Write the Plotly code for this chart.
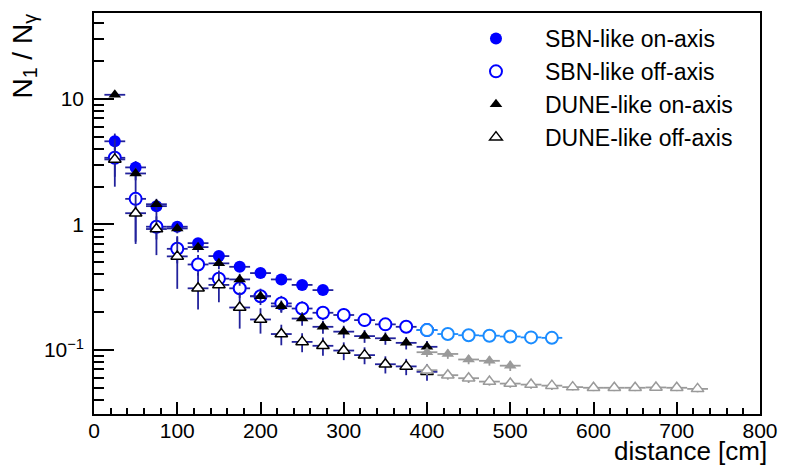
import plotly.graph_objects as go

# ---------------- data ----------------
x_sbn_on = [25, 50, 75, 100, 125, 150, 175, 200, 225, 250, 275]
y_sbn_on = [4.6, 2.85, 1.4, 0.96, 0.71, 0.56, 0.46, 0.41, 0.365, 0.33, 0.30]
e_sbn_on = [0.7, 0.35, 0.12, 0.06, 0.05, 0.04, 0.03, 0.025, 0.022, 0.02, 0.018]

x_sbn_off = [25, 50, 75, 100, 125, 150, 175, 200, 225, 250, 275, 300, 325, 350, 375, 400]
y_sbn_off = [3.4, 1.6, 0.96, 0.64, 0.48, 0.37, 0.31, 0.268, 0.235, 0.214, 0.198, 0.19, 0.173, 0.16, 0.153, 0.144]
e_sbn_off = [1.4, 0.9, 0.2, 0.15, 0.09, 0.06, 0.05, 0.04, 0.035, 0.03, 0.025, 0.025, 0.02, 0.018, 0.016, 0.014]

x_sbn_off_ext = [400, 425, 450, 475, 500, 525, 550]
y_sbn_off_ext = [0.144, 0.134, 0.131, 0.130, 0.128, 0.126, 0.125]
e_sbn_off_ext = [0.008, 0.006, 0.005, 0.005, 0.004, 0.004, 0.004]

x_dune_on = [25, 50, 75, 100, 125, 150, 175, 200, 225, 250, 275, 300, 325, 350, 375, 400]
y_dune_on = [10.8, 2.55, 1.45, 0.93, 0.66, 0.49, 0.365, 0.268, 0.223, 0.178, 0.153, 0.14, 0.129, 0.124, 0.114, 0.106]
e_dune_on = [0.3, 0.3, 0.15, 0.08, 0.06, 0.05, 0.04, 0.03, 0.025, 0.022, 0.018, 0.016, 0.015, 0.014, 0.013, 0.012]

x_dune_on_ext = [400, 425, 450, 475, 500]
y_dune_on_ext = [0.096, 0.093, 0.084, 0.082, 0.075]
e_dune_on_ext = [0.008, 0.008, 0.007, 0.007, 0.007]

x_dune_off = [25, 50, 75, 100, 125, 150, 175, 200, 225, 250, 275, 300, 325, 350, 375, 400]
y_dune_off = [3.3, 1.23, 0.92, 0.557, 0.31, 0.33, 0.218, 0.175, 0.134, 0.116, 0.108, 0.099, 0.091, 0.077, 0.074, 0.067]
e_dune_off = [0.9, 0.5, 0.35, 0.25, 0.1, 0.09, 0.07, 0.04, 0.025, 0.02, 0.018, 0.016, 0.014, 0.012, 0.011, 0.01]

x_dune_off_ext = [400, 425, 450, 475, 500, 525, 550, 575, 600, 625, 650, 675, 700, 725]
y_dune_off_ext = [0.069, 0.063, 0.0596, 0.056, 0.054, 0.053, 0.052, 0.0506, 0.050, 0.050, 0.050, 0.0503, 0.050, 0.049]
e_dune_off_ext = [0.006, 0.005, 0.005, 0.004, 0.004, 0.004, 0.004, 0.003, 0.003, 0.003, 0.003, 0.003, 0.003, 0.003]

bin_half_width = 12.5

y_tickvals = [0.1, 1, 10]
y_ticktext = ["10<sup>\u22121</sup>", "1", "10"]
y_minor = [0.04, 0.05, 0.06, 0.07, 0.08, 0.09,
           0.2, 0.3, 0.4, 0.5, 0.6, 0.7, 0.8, 0.9,
           2, 3, 4, 5, 6, 7, 8, 9, 20, 30, 40]

# ---------------- style ----------------
FONT = "Liberation Sans, Arial, Helvetica, sans-serif"
NAVY = "#22229c"
BLUE = "#0000ff"
LIGHTBLUE = "#1a8cff"
GRAY = "#9a9a9a"

fig = go.Figure()


def add(x, y, e, name, symbol, mcolor, lcolor, ecolor, legend=True, size=12, lw=2):
    fig.add_trace(go.Scatter(
        x=x, y=y, mode="markers", name=name, showlegend=legend,
        marker=dict(symbol=symbol, size=size, color=mcolor,
                    line=dict(color=lcolor, width=lw)),
        error_y=dict(type="data", array=e, visible=True, color=ecolor,
                     thickness=1.8, width=0),
        error_x=dict(type="constant", value=bin_half_width, visible=True,
                     color=ecolor, thickness=1.8, width=0),
    ))


add(x_sbn_on, y_sbn_on, e_sbn_on, "SBN-like on-axis", "circle", BLUE, BLUE, NAVY, lw=0)
add(x_sbn_off, y_sbn_off, e_sbn_off, "SBN-like off-axis", "circle", "white", BLUE, NAVY)
add(x_dune_on, y_dune_on, e_dune_on, "DUNE-like on-axis", "triangle-up", "black", "black", NAVY, size=11, lw=0)
add(x_dune_off, y_dune_off, e_dune_off, "DUNE-like off-axis", "triangle-up", "white", "black", NAVY, size=11, lw=1.5)
add(x_sbn_off_ext, y_sbn_off_ext, e_sbn_off_ext, "SBN-like off-axis (ext)", "circle", "white", LIGHTBLUE, LIGHTBLUE, legend=False)
add(x_dune_on_ext, y_dune_on_ext, e_dune_on_ext, "DUNE-like on-axis (ext)", "triangle-up", GRAY, GRAY, GRAY, legend=False, size=11, lw=0)
add(x_dune_off_ext, y_dune_off_ext, e_dune_off_ext, "DUNE-like off-axis (ext)", "triangle-up", "white", GRAY, GRAY, legend=False, size=11, lw=1.5)

fig.update_layout(
    width=789, height=468,
    margin=dict(l=94, r=18, t=11, b=54),
    paper_bgcolor="white", plot_bgcolor="white",
    font=dict(family=FONT, color="black", size=21),
    legend=dict(x=0.530, y=0.99, xanchor="left", yanchor="top",
                font=dict(size=23, family=FONT), bgcolor="rgba(0,0,0,0)",
                itemwidth=88, tracegroupgap=7),
    xaxis=dict(
        range=[0, 800], showgrid=False, zeroline=False,
        showline=True, linecolor="black", linewidth=1.5, mirror=True,
        ticks="inside", ticklen=12, tickwidth=1.5, tickcolor="black",
        tickmode="linear", tick0=0, dtick=100,
        tickfont=dict(size=21, family=FONT), ticklabelstandoff=-3,
        minor=dict(ticks="inside", ticklen=6, tickwidth=1.5, tickcolor="black", dtick=20, showgrid=False),
    ),
    yaxis=dict(
        type="log", range=[-1.51, 1.685], showgrid=False, zeroline=False,
        showline=True, linecolor="black", linewidth=1.5, mirror=True,
        ticks="inside", ticklen=20, tickwidth=1.5, tickcolor="black",
        tickmode="array", tickvals=y_tickvals, ticktext=y_ticktext,
        tickfont=dict(size=21, family=FONT), ticklabelstandoff=4,
        minor=dict(ticks="inside", ticklen=10, tickwidth=1.5, tickcolor="black",
                   tickmode="array", tickvals=y_minor, showgrid=False),
    ),
    annotations=[
        dict(text="distance [cm]", xref="paper", yref="paper", x=1.0, y=-0.132,
             xanchor="right", yanchor="bottom", showarrow=False, xshift=8,
             borderpad=0, font=dict(size=26, family=FONT)),
        dict(text="N<sub>1</sub> / N<sub>\u03b3</sub>", xref="paper", yref="paper",
             x=-0.105, y=1.0, xanchor="center", yanchor="top", textangle=-90,
             showarrow=False, borderpad=0, font=dict(size=28, family=FONT)),
    ],
)

fig.write_html("out.html")
